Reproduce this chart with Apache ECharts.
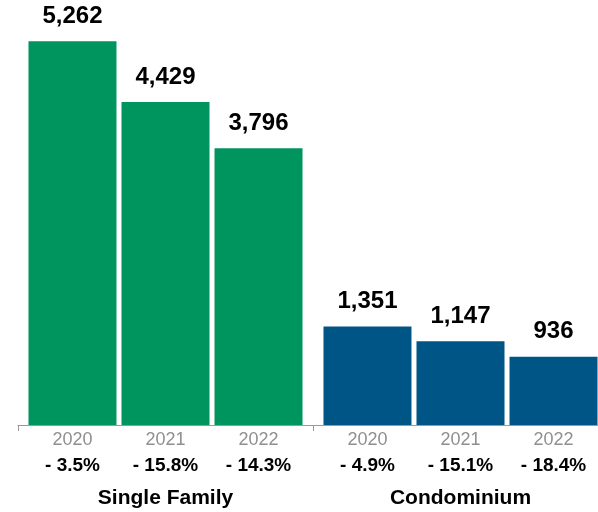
<!DOCTYPE html>
<html>
<head>
<meta charset="utf-8">
<script src="https://cdn.jsdelivr.net/npm/echarts@6/dist/echarts.min.js"></script>
<style>
  html, body { margin: 0; padding: 0; background: #ffffff; overflow: hidden; }
  #chart { width: 608px; height: 512px; }
</style>
</head>
<body>
<div id="chart"></div>
<script>
// Home sales by property type, 2020-2022, with year-over-year change
const groups = ['Single Family', 'Condominium'];
const years = ['2020', '2021', '2022'];
const singleFamily = [5262, 4429, 3796];
const condominium = [1351, 1147, 936];
const changeSingleFamily = ['- 3.5%', '- 15.8%', '- 14.3%'];
const changeCondominium = ['- 4.9%', '- 15.1%', '- 18.4%'];
const groupColors = ['#00955F', '#005587'];

const FONT = '"Liberation Sans", Arial, Helvetica, sans-serif';
const chart = echarts.init(document.getElementById('chart'), null, { renderer: 'canvas' });

const series = [];
years.forEach((year, i) => {
  // zero-height base bar carrying the year and change labels under the axis
  series.push({
    type: 'bar',
    name: year + ' label',
    stack: 'y' + year,
    data: [0, 0],
    barWidth: 88,
    barGap: '5.7%',
    silent: true,
    itemStyle: { color: 'transparent' },
    label: {
      show: true,
      position: 'bottom',
      distance: 2,
      fontFamily: FONT,
      formatter: p => '{y|' + year + '}\n{p|' +
        (p.dataIndex === 0 ? changeSingleFamily[i] : changeCondominium[i]) + '}',
      rich: {
        y: { fontFamily: FONT, fontSize: 18, color: '#8f8f8f', lineHeight: 26, align: 'center' },
        p: { fontFamily: FONT, fontSize: 19, fontWeight: 'bold', color: '#000000', lineHeight: 26, align: 'center' }
      }
    }
  });
  // the sales bar itself
  series.push({
    type: 'bar',
    name: year,
    stack: 'y' + year,
    data: [singleFamily[i], condominium[i]],
    barWidth: 88,
    barGap: '5.7%',
    itemStyle: { color: p => groupColors[p.dataIndex] },
    label: {
      show: true,
      position: 'top',
      distance: 13,
      fontFamily: FONT,
      fontSize: 24,
      fontWeight: 'bold',
      color: '#000000',
      lineHeight: 24,
      formatter: p => Number(p.value).toLocaleString('en-US')
    }
  });
});

chart.setOption({
  animation: false,
  backgroundColor: '#ffffff',
  grid: { left: 18, right: 0, top: 2, bottom: 87, containLabel: false },
  xAxis: {
    type: 'category',
    data: groups,
    axisLine: { show: true, lineStyle: { color: '#9a9a9a', width: 1 } },
    axisTick: { show: true, length: 6, lineStyle: { color: '#9a9a9a' } },
    axisLabel: {
      margin: 63,
      fontFamily: FONT,
      fontSize: 21,
      fontWeight: 'bold',
      color: '#000000'
    }
  },
  yAxis: { type: 'value', min: 0, max: 5800, show: false },
  series: series
});
</script>
</body>
</html>
